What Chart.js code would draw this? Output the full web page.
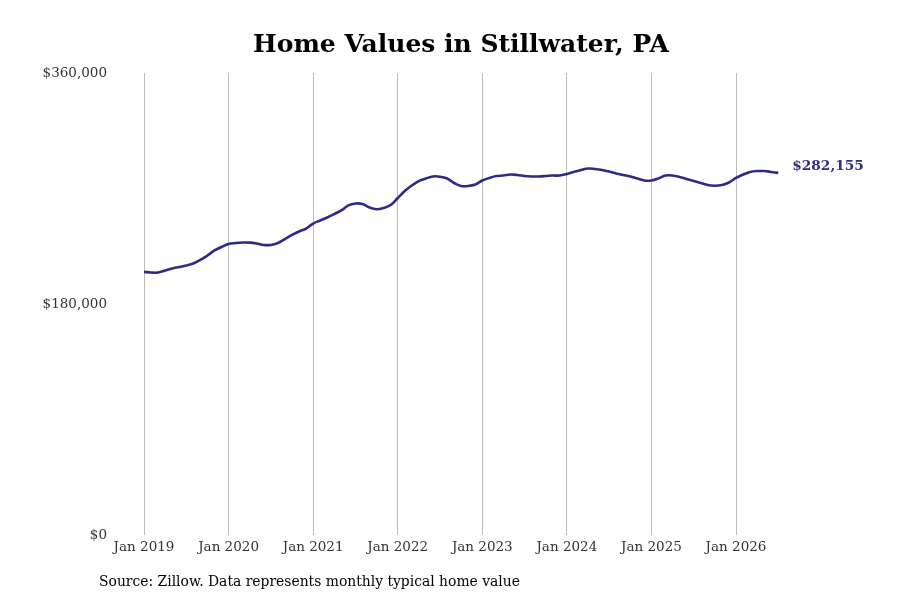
<!DOCTYPE html>
<html>
<head>
<meta charset="utf-8">
<script src="https://cdn.jsdelivr.net/npm/chart.js@4.4.1/dist/chart.umd.min.js"></script>
<style>
  html, body { margin: 0; padding: 0; background: #fff; }
  #wrap { width: 900px; height: 600px; position: relative; }
</style>
</head>
<body>
<div id="wrap"><canvas id="chart" width="900" height="600"></canvas></div>
<script>
// monthly typical home value, Jan 2019 .. Jul 2026
const values2019 = [205000, 204500, 204500, 206100, 207700, 208800, 210000, 211600, 214300, 217800, 221700, 224400];
const values2020 = [226800, 227500, 227900, 227800, 227100, 226000, 226000, 227500, 230600, 233800, 236500, 238800];
const values2021 = [242700, 245100, 247400, 250100, 252900, 256800, 258300, 257900, 255200, 253800, 254800, 257100];
const values2022 = [262600, 268100, 272300, 275800, 277800, 279400, 279200, 277800, 274300, 271900, 271900, 273100];
const values2023 = [276200, 278200, 279700, 280100, 280900, 280500, 279700, 279400, 279400, 279700, 280100, 280100];
const values2024 = [281300, 282900, 284400, 285600, 285200, 284400, 283200, 281700, 280500, 279400, 277800, 276200];
const values2025 = [276200, 277800, 280100, 280100, 279000, 277400, 275800, 274300, 272700, 272200, 272700, 274700];
const values2026 = [278200, 280900, 282900, 283600, 283600, 282900, 282155];

const homeValues = [].concat(values2019, values2020, values2021, values2022, values2023, values2024, values2025, values2026);

const xTickMonths = [0, 12, 24, 36, 48, 60, 72, 84];
const xTickLabels = ['Jan 2019', 'Jan 2020', 'Jan 2021', 'Jan 2022', 'Jan 2023', 'Jan 2024', 'Jan 2025', 'Jan 2026'];
const yTickValues = [0, 180000, 360000];

const titleText = 'Home Values in Stillwater, PA';
const sourceText = 'Source: Zillow. Data represents monthly typical home value';
const lineColor = '#2e2b87';

const fmtMoney = v => '$' + Math.round(v).toLocaleString('en-US');

const points = homeValues.map((v, i) => ({ x: i, y: v }));

// title, source line and end-of-line value label
const extras = {
  id: 'extras',
  afterDraw(chart) {
    const c = chart.ctx;
    c.save();
    c.fillStyle = '#000';
    c.font = 'bold 25px "DejaVu Serif"';
    c.textAlign = 'center';
    c.textBaseline = 'middle';
    c.fillText(titleText, 461, 45);

    c.font = '13.9px "DejaVu Serif"';
    c.textAlign = 'left';
    c.fillText(sourceText, 99, 582);

    const meta = chart.getDatasetMeta(0);
    const last = meta.data[meta.data.length - 1];
    c.fillStyle = lineColor;
    c.font = 'bold 13.7px "DejaVu Serif"';
    c.fillText(fmtMoney(homeValues[homeValues.length - 1]), last.x + 14, last.y - 6);
    c.restore();
  }
};

const pxPerMonth = (736 - 144) / 84;
const areaLeft = 115, areaRight = 850;
const xMin = -(144 - areaLeft) / pxPerMonth;
const xMax = xMin + (areaRight - areaLeft) / pxPerMonth;

new Chart(document.getElementById('chart').getContext('2d'), {
  type: 'line',
  data: {
    datasets: [{
      data: points,
      borderColor: lineColor,
      borderWidth: 2.6,
      pointRadius: 0,
      tension: 0.35,
      fill: false
    }]
  },
  options: {
    responsive: false,
    animation: false,
    layout: { padding: { top: 73, right: 900 - areaRight, bottom: 0, left: 0 } },
    plugins: { legend: { display: false }, tooltip: { enabled: false } },
    scales: {
      x: {
        type: 'linear',
        min: xMin,
        max: xMax,
        border: { display: false },
        grid: { color: '#bdbdbd', lineWidth: 1, drawTicks: false },
        afterBuildTicks: s => { s.ticks = xTickMonths.map(v => ({ value: v })); },
        afterFit: s => { s.height = 65; },
        ticks: {
          padding: 4,
          color: '#333',
          font: { family: 'DejaVu Serif', size: 13.5 },
          maxRotation: 0,
          callback: (v, i) => xTickLabels[i]
        }
      },
      y: {
        min: 0,
        max: 360000,
        border: { display: false },
        grid: { display: false, drawTicks: false },
        afterBuildTicks: s => { s.ticks = yTickValues.map(v => ({ value: v })); },
        afterFit: s => { s.width = areaLeft; },
        ticks: {
          padding: 8,
          color: '#333',
          font: { family: 'DejaVu Serif', size: 13.5 },
          callback: v => fmtMoney(v)
        }
      }
    }
  },
  plugins: [extras]
});
</script>
</body>
</html>
